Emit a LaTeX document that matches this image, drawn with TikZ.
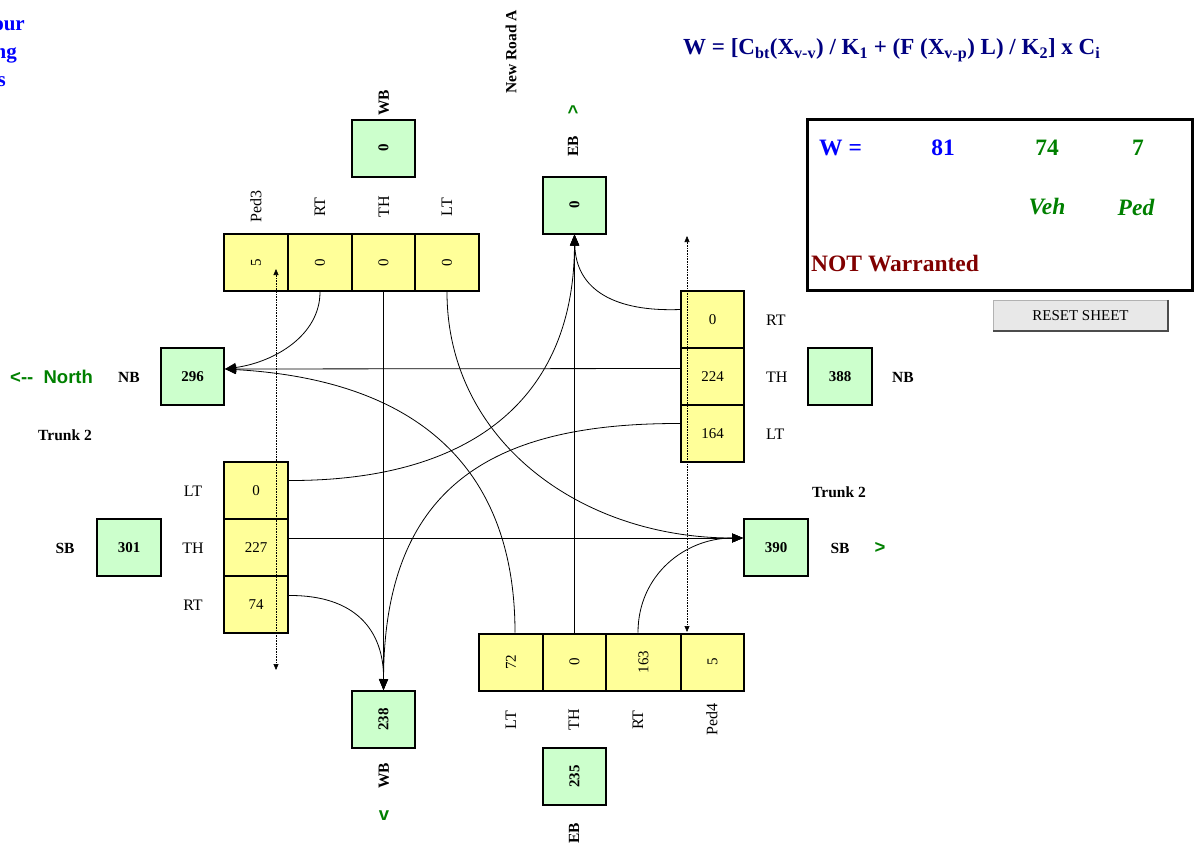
\documentclass[tikz,border=0pt]{standalone}
\usepackage{fontspec}
\setmainfont{Liberation Serif}
\newfontfamily\sansf{Liberation Sans}
\usetikzlibrary{arrows.meta,calc}
\definecolor{gfill}{HTML}{CCFFCC}
\definecolor{yfill}{HTML}{FFFF99}
\definecolor{dgreen}{HTML}{008000}
\definecolor{navyc}{HTML}{000080}
\definecolor{dred}{HTML}{800000}
\definecolor{bblue}{HTML}{0000FF}
\begin{document}
\begin{tikzpicture}[x=1pt,y=-1pt,
  gbox/.style={draw, line width=2pt, fill=gfill, minimum width=63pt, minimum height=57pt, inner sep=0pt, font=\fontsize{15}{15}\selectfont\bfseries},
  ycell/.style={draw, line width=2pt, fill=yfill, minimum width=64pt, minimum height=57pt, inner sep=0pt, font=\fontsize{15}{15}\selectfont},
  lab/.style={inner sep=0pt, font=\fontsize{16}{16}\selectfont},
  blab/.style={inner sep=0pt, font=\fontsize{15.5}{15.5}\selectfont\bfseries},
  glab/.style={inner sep=0pt, text=dgreen, font=\fontsize{18.5}{18.5}\selectfont\sansf\bfseries},
  flow/.style={line width=0.8pt, -{Triangle[length=11pt,width=9pt]}},
  ped/.style={densely dotted, line width=0.6pt, {Triangle[length=6pt,width=5pt]}-{Triangle[length=6pt,width=5pt]}}
]
\useasboundingbox (0,0) rectangle (1194,844);

% top-left clipped text
\node[anchor=base east, inner sep=0, text=bblue, font=\fontsize{21}{21}\selectfont\bfseries] (tl1) at (25,30) {our};
\node[anchor=base east, inner sep=0, text=bblue, font=\fontsize{21}{21}\selectfont\bfseries] (tl2) at (17,58) {ng};
\node[anchor=base east, inner sep=0, text=bblue, font=\fontsize{21}{21}\selectfont\bfseries] (tl3) at (6,86) {s};

% formula
\node[anchor=west, inner sep=0, text=navyc, font=\fontsize{23}{23}\selectfont\bfseries] (formula) at (683,50)
 {W = [C\textsubscript{bt}(X\textsubscript{v-v}) / K\textsubscript{1} + (F (X\textsubscript{v-p}) L) / K\textsubscript{2}] x C\textsubscript{i}};

% W box
\node[draw, line width=3pt, minimum width=385pt, minimum height=171pt, inner sep=0] (wbox) at (999.5,204.5) {};
\node[anchor=west, inner sep=0, text=bblue, font=\fontsize{23.5}{23.5}\selectfont\bfseries] (weq) at (819,148) {W =};
\node[inner sep=0, text=bblue, font=\fontsize{23.5}{23.5}\selectfont\bfseries] (w81) at (943,148) {81};
\node[inner sep=0, text=dgreen, font=\fontsize{23.5}{23.5}\selectfont\bfseries] (w74) at (1047,148) {74};
\node[inner sep=0, text=dgreen, font=\fontsize{23.5}{23.5}\selectfont\bfseries] (w7) at (1138,148) {7};
\node[inner sep=0, text=dgreen, font=\fontsize{23.5}{23.5}\selectfont\bfseries\itshape] (veh) at (1047,207) {Veh};
\node[inner sep=0, text=dgreen, font=\fontsize{23.5}{23.5}\selectfont\bfseries\itshape] (pedw) at (1136,207) {Ped};
\node[anchor=west, inner sep=0, text=dred, font=\fontsize{23.5}{23.5}\selectfont\bfseries] (notw) at (811,264) {NOT Warranted};

% reset button
\node[draw=gray!60, fill=gray!18, minimum width=175pt, minimum height=31pt, inner sep=0, font=\fontsize{15}{15}\selectfont] (reset) at (1080.5,315.5) {RESET SHEET};
\draw[gray!60!black, line width=1.5pt] (reset.north east) -- (reset.south east) -- (reset.south west);

% green boxes
\node[gbox] (wbT) at (383.5,148) {\rotatebox{90}{0}};
\node[gbox] (ebT) at (574.5,205) {\rotatebox{90}{0}};
\node[gbox] (nbL) at (192.5,376.5) {296};
\node[gbox, minimum width=64pt] (nbR) at (840,376.5) {388};
\node[gbox, minimum width=64pt] (sbL) at (129,547.5) {301};
\node[gbox, minimum width=64pt] (sbR) at (776,547.5) {390};
\node[gbox] (wbB) at (383.5,719.5) {\rotatebox{90}{238}};
\node[gbox] (ebB) at (574.5,776.5) {\rotatebox{90}{235}};

% top row
\node[ycell] (tP) at (256,262.5) {\rotatebox{90}{5}};
\node[ycell] (tR) at (320,262.5) {\rotatebox{90}{0}};
\node[ycell, minimum width=63pt] (tT) at (383.5,262.5) {\rotatebox{90}{0}};
\node[ycell] (tL) at (447,262.5) {\rotatebox{90}{0}};
% right column
\node[ycell, minimum width=63pt] (rR) at (712.5,319.5) {0};
\node[ycell, minimum width=63pt] (rT) at (712.5,376.5) {224};
\node[ycell, minimum width=63pt] (rL) at (712.5,433.5) {164};
% left column
\node[ycell] (lL) at (256,490.5) {0};
\node[ycell] (lT) at (256,547.5) {227};
\node[ycell] (lR) at (256,604.5) {74};
% bottom row
\node[ycell] (bL) at (511,662) {\rotatebox{90}{72}};
\node[ycell, minimum width=63pt] (bT) at (574.5,662) {\rotatebox{90}{0}};
\node[ycell, minimum width=75pt] (bR) at (643.5,662) {\rotatebox{90}{163}};
\node[ycell, minimum width=63pt] (bP) at (712.5,662) {\rotatebox{90}{5}};

% labels top
\node[lab, rotate=90] (lbP3) at (256,206) {Ped3};
\node[lab, rotate=90] (lbTR) at (320,207) {RT};
\node[lab, rotate=90] (lbTT) at (384,207) {TH};
\node[lab, rotate=90] (lbTL) at (447,207) {LT};
\node[blab, rotate=90] (lbWBt) at (384,103) {WB};
\node[blab, rotate=90] (lbNR) at (511,52) {New Road A};
\node[glab] (caret) at (573,112) {\^{}};
\node[blab, rotate=90] (lbEBt) at (573,146) {EB};
% labels right
\node[lab, anchor=west] (lbRR) at (766,320) {RT};
\node[lab, anchor=west] (lbRT) at (766,377) {TH};
\node[lab, anchor=west] (lbRL) at (766,434) {LT};
\node[blab, anchor=west] (lbNBr) at (892,377) {NB};
% labels left
\node[glab, anchor=west] (north) at (10,377) {<-{}-\ \ North};
\node[blab] (lbNBl) at (129,377) {NB};
\node[blab] (trunkL) at (65,435) {Trunk 2};
\node[lab] (lbLL) at (193,491) {LT};
\node[lab] (lbLT) at (193,548) {TH};
\node[lab] (lbLR) at (193,605) {RT};
\node[blab] (lbSBl) at (65,548) {SB};
% labels right lower
\node[blab] (trunkR) at (839,492) {Trunk 2};
\node[blab] (lbSBr) at (840,548) {SB};
\node[glab] (gt) at (880,548) {>};
% labels bottom
\node[lab, rotate=90] (lbBL) at (511,720) {LT};
\node[lab, rotate=90] (lbBT) at (574,720) {TH};
\node[lab, rotate=90] (lbBR) at (638,720) {RT};
\node[lab, rotate=90] (lbP4) at (712,719) {Ped4};
\node[blab, rotate=90] (lbEBb) at (574,833) {EB};
\node[blab, rotate=90] (lbWBb) at (384,776) {WB};
\node[glab] (vv) at (384,816) {v};

% arrival points
\coordinate (nbIn) at ([yshift=7.5pt]nbL.east);
\coordinate (sbIn) at ([yshift=9.5pt]sbR.west);
\coordinate (ebIn) at (ebT.south);
\coordinate (wbIn) at (wbB.north);

% flows
\draw[flow] (tR.south) .. controls (320,335) and (275,362) .. (nbIn);
\draw[flow] ([yshift=8pt]rT.west) -- (nbIn);
\draw[flow] ([xshift=4pt]bL.north) .. controls (515,470) and (420,380) .. (nbIn);
\draw[flow] (tT.south) -- (wbIn);
\draw[flow] ([yshift=9pt]lR.east) .. controls (355,595) and (384,630) .. (wbIn);
\draw[flow] ([yshift=10pt]rL.west) .. controls (500,423) and (384,480) .. (wbIn);
\draw[flow] (tL.south) .. controls (447,440) and (580,538) .. (sbIn);
\draw[flow] ([yshift=9.5pt]lT.east) -- (sbIn);
\draw[flow] ([xshift=-5.5pt]bR.north) .. controls (638,575) and (685,538) .. (sbIn);
\draw[flow] ([yshift=10pt]lL.east) .. controls (470,481) and (574,400) .. (ebIn);
\draw[flow] (bT.north) -- (ebIn);
\draw[flow] ([yshift=10pt]rR.west) .. controls (615,312) and (576,290) .. (ebIn);

% pedestrian dotted
\coordinate (p3a) at (276,269);
\coordinate (p3b) at (276,670);
\coordinate (p4a) at (687,236);
\coordinate (p4b) at (687,632);
\draw[ped] (p3b) -- (p3a);
\draw[ped] (p4b) -- (p4a);
\end{tikzpicture}
\end{document}
